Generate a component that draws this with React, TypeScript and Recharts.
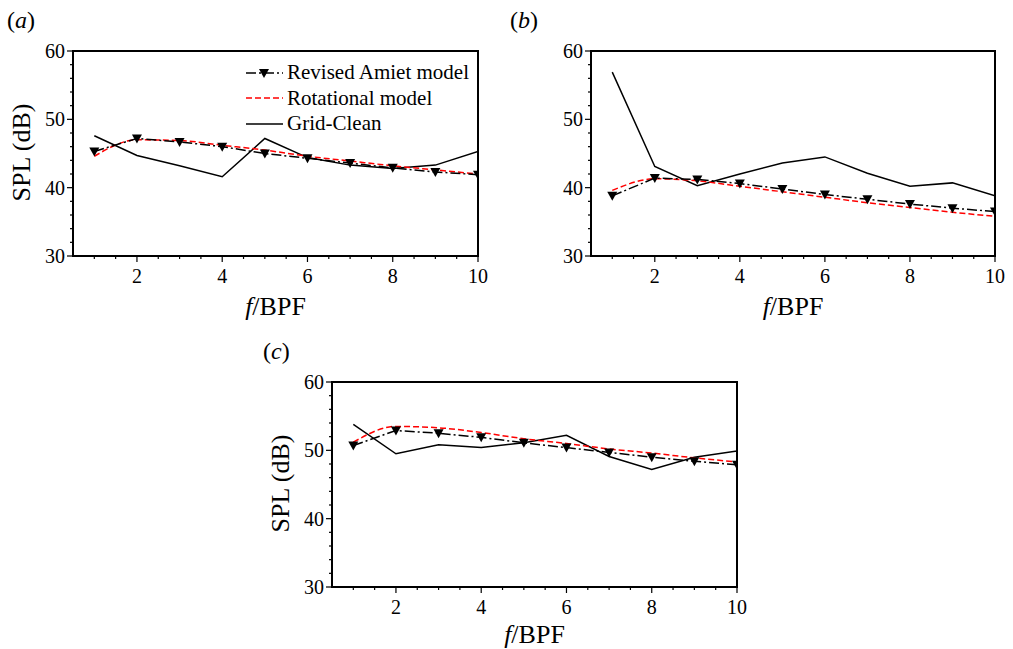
import React from "react";
import { LineChart, Line, XAxis, YAxis, ReferenceArea, Legend } from "recharts";

const freq = [1, 2, 3, 4, 5, 6, 7, 8, 9, 10];

// (a)
const amietA = [45.3, 47.2, 46.7, 46.0, 45.0, 44.3, 43.6, 42.9, 42.3, 41.9];
const rotA = [44.6, 47.0, 46.9, 46.2, 45.5, 44.6, 43.9, 43.2, 42.6, 42.0];
const gridA = [47.6, 44.7, 43.2, 41.6, 47.2, 44.4, 43.3, 42.8, 43.3, 45.3];

// (b)
const amietB = [38.8, 41.4, 41.2, 40.6, 39.8, 39.0, 38.3, 37.6, 37.0, 36.5];
const rotB = [39.6, 41.3, 41.0, 40.2, 39.4, 38.6, 37.8, 37.1, 36.4, 35.8];
const gridB = [56.9, 43.1, 40.3, 42.0, 43.6, 44.5, 42.1, 40.2, 40.7, 38.8];

// (c)
const amietC = [50.7, 52.9, 52.5, 51.9, 51.1, 50.4, 49.7, 49.0, 48.4, 47.9];
const rotC = [51.2, 53.5, 53.3, 52.6, 51.7, 51.0, 50.2, 49.6, 48.9, 48.3];
const gridC = [53.8, 49.5, 50.8, 50.4, 51.1, 52.2, 49.1, 47.2, 49.0, 49.9];

const xTicks = [2, 4, 6, 8, 10];
const xMinorTicks = [1, 1.5, 2.5, 3, 3.5, 4.5, 5, 5.5, 6.5, 7, 7.5, 8.5, 9, 9.5];
const yTicks = [30, 40, 50, 60];
const yMinorTicks = [32, 34, 36, 38, 42, 44, 46, 48, 52, 54, 56, 58];

const allXTicks = [...xMinorTicks, ...xTicks].sort((a, b) => a - b);
const allYTicks = [...yMinorTicks, ...yTicks].sort((a, b) => a - b);

const FONT = '"Liberation Serif", "Times New Roman", serif';

const series = [
  { key: "grid", name: "Grid-Clean", color: "#000", dash: undefined, marker: false, curve: "linear" },
  { key: "rot", name: "Rotational model", color: "#ff0000", dash: "6 3", marker: false, curve: "monotone" },
  { key: "amiet", name: "Revised Amiet model", color: "#000", dash: "10 3 2 3", marker: true, curve: "linear" },
];
const legendOrder = ["amiet", "rot", "grid"];

const TriangleDot = (props: any) => {
  const { cx, cy } = props;
  if (cx == null || cy == null) return null;
  return <path d={`M${cx - 5},${cy - 4} L${cx + 5},${cy - 4} L${cx},${cy + 5} Z`} fill="#000" />;
};

const XTick = ({ x, y, payload }: any) => {
  const v = payload.value;
  const major = xTicks.includes(v);
  return (
    <g>
      <line x1={x} y1={y} x2={x} y2={y + (major ? 6 : 3)} stroke="#000" strokeWidth={1.2} />
      {major && (
        <text x={x} y={y + 27} textAnchor="middle" fontFamily={FONT} fontSize={20} fill="#000">{v}</text>
      )}
    </g>
  );
};

const YTick = ({ x, y, payload }: any) => {
  const v = payload.value;
  const major = yTicks.includes(v);
  return (
    <g>
      <line x1={x} y1={y} x2={x - (major ? 6 : 3)} y2={y} stroke="#000" strokeWidth={1.2} />
      {major && (
        <text x={x - 8} y={y + 7} textAnchor="end" fontFamily={FONT} fontSize={20} fill="#000">{v}</text>
      )}
    </g>
  );
};

const XTitle = ({ viewBox, gap }: any) => {
  if (!viewBox) return null;
  return (
    <text x={viewBox.x + viewBox.width / 2} y={viewBox.y + gap} textAnchor="middle" fontFamily={FONT} fontSize={26} fill="#000">
      <tspan fontStyle="italic">f</tspan>/BPF
    </text>
  );
};

const YTitle = ({ viewBox }: any) => {
  if (!viewBox) return null;
  const x = viewBox.x + viewBox.width - 52;
  const y = viewBox.y + viewBox.height / 2 - 1;
  return (
    <text x={x} y={y} transform={`rotate(-90 ${x} ${y})`} textAnchor="middle" dominantBaseline="central" fontFamily={FONT} fontSize={26} fill="#000">
      SPL (dB)
    </text>
  );
};

const LegendBox = () => (
  <div style={{ fontFamily: FONT, fontSize: 21, color: "#000" }}>
    {legendOrder.map((k) => {
      const s = series.find((d) => d.key === k)!;
      return (
        <div key={k} style={{ display: "flex", alignItems: "center", height: 25.5, whiteSpace: "nowrap" }}>
          <svg width={39} height={14}>
            <line x1={1} y1={7} x2={38} y2={7} stroke={s.color} strokeWidth={1.5} strokeDasharray={s.dash} />
            {s.marker && <TriangleDot cx={19} cy={7} />}
          </svg>
          <span style={{ marginLeft: 3 }}>{s.name}</span>
        </div>
      );
    })}
  </div>
);

type PanelProps = {
  amiet: number[];
  rot: number[];
  grid: number[];
  width: number;
  height: number;
  margin: { top: number; right: number; bottom: number; left: number };
  titleGap: number;
  yTitle?: boolean;
  legend?: boolean;
};

function Panel({ amiet, rot, grid, width, height, margin, titleGap, yTitle, legend }: PanelProps) {
  const data = freq.map((f, i) => ({ f, amiet: amiet[i], rot: rot[i], grid: grid[i] }));
  return (
    <LineChart width={width} height={height} data={data} margin={margin}>
      <XAxis type="number" dataKey="f" domain={[0.5, 10]} ticks={allXTicks} interval={0} tickSize={0} tickMargin={0}
        tick={<XTick />} tickLine={false} axisLine={{ stroke: "#000", strokeWidth: 2 }}
        height={30} label={<XTitle gap={titleGap} />} allowDataOverflow />
      <YAxis type="number" domain={[30, 60]} ticks={allYTicks} interval={0} tickSize={0} tickMargin={0}
        tick={<YTick />} tickLine={false} axisLine={{ stroke: "#000", strokeWidth: 2 }}
        width={60} label={yTitle ? <YTitle /> : undefined} allowDataOverflow />
      {series.map((s) => (
        <Line key={s.key} dataKey={s.key} name={s.name} type={s.curve as any} stroke={s.color} strokeWidth={1.5}
          strokeDasharray={s.dash} dot={s.marker ? <TriangleDot /> : false} activeDot={false} isAnimationActive={false} />
      ))}
      <ReferenceArea x1={0.5} x2={10} y1={30} y2={60} fill="none" stroke="#000" strokeWidth={2} />
      {legend && (
        <Legend layout="vertical" align="center" verticalAlign="middle" content={<LegendBox />}
          wrapperStyle={{ position: "absolute", left: 245, top: 60, width: "auto" }} />
      )}
    </LineChart>
  );
}

const letterStyle = (left: number, top: number): React.CSSProperties => ({
  position: "absolute", left, top, fontFamily: FONT, fontSize: 24, lineHeight: "24px", color: "#000",
});

export default function App() {
  return (
    <div style={{ position: "absolute", left: 0, top: 0, width: 1013, height: 649, background: "#fff", overflow: "hidden" }}>
      <div style={letterStyle(7, 8)}>(<i>a</i>)</div>
      <div style={letterStyle(510, 8)}>(<i>b</i>)</div>
      <div style={letterStyle(263, 339)}>(<i>c</i>)</div>
      <div style={{ position: "absolute", left: 0, top: 0 }}>
        <Panel amiet={amietA} rot={rotA} grid={gridA} width={490} height={330} titleGap={59}
          margin={{ top: 51, right: 12, bottom: 44, left: 13 }} yTitle legend />
      </div>
      <div style={{ position: "absolute", left: 490, top: 0 }}>
        <Panel amiet={amietB} rot={rotB} grid={gridB} width={523} height={330} titleGap={59}
          margin={{ top: 51, right: 18, bottom: 44, left: 41 }} />
      </div>
      <div style={{ position: "absolute", left: 250, top: 320 }}>
        <Panel amiet={amietC} rot={rotC} grid={gridC} width={520} height={340} titleGap={56}
          margin={{ top: 62, right: 33, bottom: 43, left: 22 }} yTitle />
      </div>
    </div>
  );
}
